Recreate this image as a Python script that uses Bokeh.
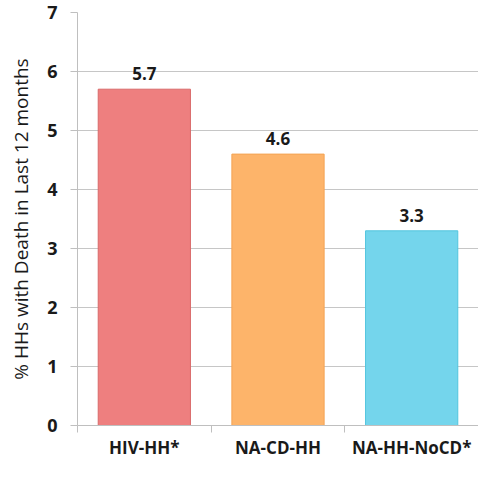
from bokeh.plotting import figure
from bokeh.models import FixedTicker, Range1d, ColumnDataSource
from bokeh.embed import file_html
from bokeh.resources import INLINE
from bokeh.core.properties import value

categories = ["HIV-HH*", "NA-CD-HH", "NA-HH-NoCD*"]
values = [5.7, 4.6, 3.3]
labels = ["5.7", "4.6", "3.3"]
fills = ["#EE7F7F", "#FDB46A", "#74D5EC"]
borders = ["#D96A6A", "#F4A352", "#52C5DE"]
y_ticks = [0, 1, 2, 3, 4, 5, 6, 7]

xs = [i + 0.5 for i in range(len(categories))]
src = ColumnDataSource(dict(x=xs, top=values, fill=fills, line=borders, lab=labels))

p = figure(width=478, height=461, output_backend="svg", toolbar_location=None,
           x_range=Range1d(0, len(categories)), y_range=Range1d(0, 7),
           min_border_left=77, min_border_right=0, min_border_top=12, min_border_bottom=36)
p.outline_line_color = None
p.background_fill_color = "white"

p.vbar(x="x", top="top", width=0.69, bottom=0, fill_color="fill", line_color="line",
       line_width=1, source=src)
p.text(x="x", y="top", text="lab", text_align="center", text_baseline="bottom",
       y_offset=-9, text_font=value("Open Sans"), text_font_style="bold",
       text_font_size="17px", text_color="#1a1a1a", source=src)

p.xaxis.ticker = FixedTicker(ticks=xs, minor_ticks=list(range(len(categories) + 1)))
p.xaxis.major_label_overrides = {x: c for x, c in zip(xs, categories)}
p.xaxis.major_tick_out = 0
p.xaxis.major_tick_in = 0
p.xaxis.minor_tick_out = 7
p.xaxis.minor_tick_in = 0
p.xaxis.minor_tick_line_color = "#BFBFBF"
p.xaxis.axis_line_color = "#BFBFBF"
p.xaxis.major_label_text_font = "Open Sans"
p.xaxis.major_label_text_font_style = "bold"
p.xaxis.major_label_text_font_size = "17px"
p.xaxis.major_label_text_color = "#1a1a1a"
p.xaxis.major_label_standoff = 3

p.yaxis.ticker = FixedTicker(ticks=y_ticks, minor_ticks=[])
p.yaxis.major_tick_out = 7
p.yaxis.major_tick_in = 0
p.yaxis.major_tick_line_color = "#BFBFBF"
p.yaxis.axis_line_color = "#BFBFBF"
p.yaxis.major_label_text_font = "Open Sans"
p.yaxis.major_label_text_font_style = "bold"
p.yaxis.major_label_text_font_size = "18px"
p.yaxis.major_label_text_color = "#1a1a1a"
p.yaxis.major_label_standoff = 13
p.yaxis.axis_label = "% HHs with Death in Last 12 months"
p.yaxis.axis_label_text_font = "Open Sans"
p.yaxis.axis_label_text_font_style = "normal"
p.yaxis.axis_label_text_font_size = "19px"
p.yaxis.axis_label_text_color = "#1a1a1a"
p.yaxis.axis_label_standoff = 10

p.xgrid.grid_line_color = None
p.ygrid.grid_line_color = "#C6C6C6"
p.ygrid.grid_line_width = 1

open("out.html", "w").write(file_html(p, INLINE))
